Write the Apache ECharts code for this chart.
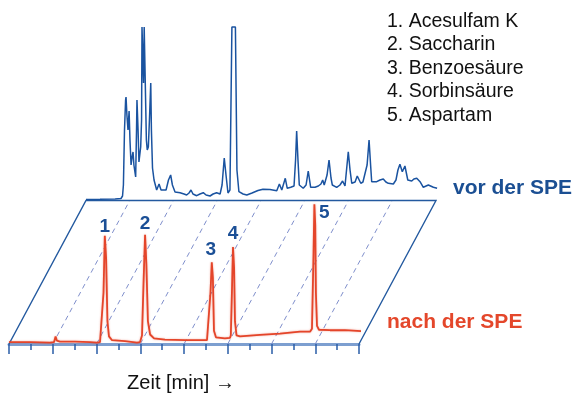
<!DOCTYPE html>
<html>
<head>
<meta charset="utf-8">
<script src="https://cdn.jsdelivr.net/npm/echarts@6/dist/echarts.min.js"></script>
<style>
  html, body { margin: 0; padding: 0; background: #fff; }
  #chart { width: 577px; height: 398px; }
</style>
</head>
<body>
<div id="chart"></div>
<script>
// Chromatogram before SPE clean-up: [time (min), signal]
const beforeSPE = [
  [0, 1], [0.64, 1.2], [1.33, 1.5], [1.60, 2], [1.67, 4.5], [1.71, 15.5], [1.76, 70.5],
  [1.81, 100.5], [1.83, 103.5], [1.87, 85.5], [1.92, 70.5], [1.97, 89.5], [2.01, 60.5],
  [2.06, 35.5], [2.10, 42.5], [2.15, 48.5], [2.19, 35.5], [2.27, 23.5], [2.31, 70.5],
  [2.33, 100.5], [2.38, 70.5], [2.42, 38.5], [2.50, 53.5], [2.54, 80.5], [2.56, 173.5],
  [2.61, 173.5], [2.63, 117.5], [2.66, 173.5], [2.71, 173.5], [2.76, 60.5], [2.80, 50.5],
  [2.85, 53.5], [2.90, 80.5], [2.96, 117.5], [2.99, 70.5], [3.04, 32.5], [3.11, 20.5],
  [3.23, 10.5], [3.34, 16.5], [3.43, 10.5], [3.52, 8.5], [3.66, 10.5], [3.77, 20.5],
  [3.87, 25.5], [3.95, 15.5], [4.07, 8.5], [4.30, 7.8], [4.48, 6.5], [4.60, 5.5],
  [4.71, 7.5], [4.80, 10.5], [4.89, 6.5], [5.06, 4.8], [5.21, 6.5], [5.36, 7.8],
  [5.49, 5.5], [5.67, 4.5], [5.81, 6.5], [5.97, 7.8], [6.03, 6.5], [6.13, 6.5],
  [6.22, 15.5], [6.32, 42.5], [6.40, 25.5], [6.49, 7.5], [6.58, 10.5], [6.67, 173.5],
  [6.83, 173.5], [6.90, 30.5], [6.99, 8.8], [7.18, 6.5], [7.35, 5.5], [7.59, 7.5],
  [7.86, 10], [8.09, 11.2], [8.41, 11], [8.72, 9.8], [8.84, 16.5], [8.95, 10.5],
  [9.02, 11.5], [9.11, 22.2], [9.20, 12.2], [9.36, 13.2], [9.51, 14.5], [9.58, 40.5],
  [9.63, 69.5], [9.69, 40.5], [9.75, 15.5], [9.93, 12.2], [10.06, 15.5], [10.16, 29.5],
  [10.27, 13.2], [10.47, 13.2], [10.62, 14.5], [10.74, 16.5], [10.82, 20.5], [10.89, 15.5],
  [11.02, 25.5], [11.11, 40.5], [11.20, 22.5], [11.26, 15.5], [11.46, 13.2], [11.61, 15.5],
  [11.73, 19.5], [11.84, 14.5], [11.91, 30.5], [11.99, 48.8], [12.07, 30.5], [12.15, 17.2],
  [12.30, 18.5], [12.40, 24.5], [12.56, 17.2], [12.66, 18.5], [12.75, 20.5], [12.85, 35.5],
  [12.94, 60.5], [13.01, 35.5], [13.06, 18.8], [13.29, 18.8], [13.44, 20.5], [13.59, 21.5],
  [13.71, 18.5], [13.82, 17.2], [14.05, 16.5], [14.17, 20.5], [14.26, 30.5], [14.35, 36.2],
  [14.46, 28.8], [14.58, 34.5], [14.71, 20.5], [14.89, 19.5], [14.99, 21.5], [15.12, 22.2],
  [15.20, 20.5], [15.27, 18.8], [15.42, 13.2], [15.65, 15.5], [15.88, 13.2], [16.05, 12.2]
];

// Chromatogram after SPE clean-up: [time (min), signal]
const afterSPE = [
  [0, 2], [0.96, 2], [1.87, 1.5], [2.06, 2], [2.13, 8], [2.19, 3.5], [2.33, 2.5],
  [3.02, 2.5], [3.70, 2], [4.02, 1.5], [4.16, 2], [4.25, 4], [4.32, 54], [4.38, 114],
  [4.44, 90], [4.50, 24], [4.57, 8], [4.71, 4], [5.30, 3], [5.85, 1.5],
  [5.99, 2], [6.08, 9], [6.15, 64], [6.22, 115], [6.28, 84], [6.35, 24],
  [6.45, 10], [6.63, 6], [7.13, 4.5], [8.05, 4], [9.05, 4], [9.14, 6], [9.21, 54],
  [9.27, 86], [9.32, 70], [9.37, 14], [9.46, 7], [9.87, 6], [10.10, 6.5], [10.14, 9],
  [10.19, 54], [10.24, 102], [10.29, 80], [10.33, 24], [10.40, 9], [10.56, 8],
  [11.47, 9.5], [12.39, 11], [13.30, 13], [13.76, 13], [13.85, 16], [13.92, 94],
  [13.96, 147], [14.00, 125], [14.03, 54], [14.08, 19], [14.17, 15], [14.67, 14.5],
  [15.36, 14.5], [16.35, 13.3]
];

// Peak numbers and the index of each peak's apex in afterSPE
const peakNumbers = ['1', '2', '3', '4', '5'];
const peakApexIndex = [13, 23, 33, 41, 52];

// Compound list
const compounds = ['1. Acesulfam K', '2. Saccharin', '3. Benzoesäure', '4. Sorbinsäure', '5. Aspartam'];

const timeTicks = { min: 0, max: 16, interval: 2 };
const gridLines = [2, 4, 6, 8, 10, 12, 14];

const BLUE = '#1a53a0';
const RED = '#e4452a';
const FONT = '"Liberation Sans", Arial, Helvetica, sans-serif';

// per-peak label offsets (px) relative to the apex
const labelOffsets = [[0, -9], [0, -11], [-1, -13], [0, -13], [10, 8]];

const peakLabels = peakApexIndex.map((idx, k) => ({
  value: afterSPE[idx],
  label: { formatter: peakNumbers[k], offset: labelOffsets[k] }
}));

const chart = echarts.init(document.getElementById('chart'), null, { renderer: 'canvas' });

chart.setOption({
  animation: false,
  backgroundColor: '#ffffff',
  grid: [
    // front plane: after SPE
    { left: 9, top: 154, width: 350, height: 200 },
    // rear plane: before SPE
    { left: 86, top: 0.5, width: 350, height: 200 }
  ],
  xAxis: [
    {
      gridIndex: 0, type: 'value', min: timeTicks.min, max: timeTicks.max, interval: timeTicks.interval,
      axisLine: { show: true, onZero: false, lineStyle: { color: '#7d9fd0', width: 3 } },
      axisTick: { show: true, length: 10, lineStyle: { color: '#2a5ea8', width: 1.5 } },
      minorTick: { show: true, splitNumber: 2, length: 6, lineStyle: { color: '#2a5ea8', width: 1.5 } },
      axisLabel: { show: false },
      splitLine: { show: false },
      name: 'Zeit [min] →',
      nameLocation: 'middle',
      nameGap: 29,
      nameTextStyle: { color: '#111', fontFamily: FONT, fontSize: 20, padding: [0, 6, 0, 0] }
    },
    {
      gridIndex: 1, type: 'value', min: timeTicks.min, max: timeTicks.max, show: false
    }
  ],
  yAxis: [
    { gridIndex: 0, type: 'value', min: 0, max: 200, show: false },
    { gridIndex: 1, type: 'value', min: 0, max: 200, show: false }
  ],
  series: [
    {
      name: 'vor der SPE', type: 'line', xAxisIndex: 1, yAxisIndex: 1,
      data: beforeSPE, showSymbol: false, symbol: 'none', clip: false, z: 4,
      lineStyle: { color: BLUE, width: 1.5 }
    },
    {
      name: 'nach der SPE', type: 'line', xAxisIndex: 0, yAxisIndex: 0,
      data: afterSPE, showSymbol: false, symbol: 'none', clip: false, z: 5,
      lineStyle: { color: RED, width: 1.8, shadowBlur: 2, shadowColor: 'rgba(228,69,42,0.45)' }
    },
    {
      name: 'Peaks', type: 'scatter', xAxisIndex: 0, yAxisIndex: 0,
      data: peakLabels, symbolSize: 0, silent: true, z: 6,
      itemStyle: { opacity: 1 },
      label: {
        show: true, position: 'inside', opacity: 1, textBorderWidth: 0,
        color: '#1b4f96', fontFamily: FONT, fontWeight: 700, fontSize: 19
      }
    }
  ]
});

// Perspective plane joining the two time axes
const front = t => chart.convertToPixel({ gridIndex: 0 }, [t, 0]);
const rear = t => chart.convertToPixel({ gridIndex: 1 }, [t, 0]);

const graphics = [];
gridLines.forEach(t => {
  const a = front(t), b = rear(t);
  graphics.push({
    type: 'line', z: 1, silent: true,
    shape: { x1: a[0], y1: a[1], x2: b[0], y2: b[1] },
    style: { stroke: '#7f8fcc', lineWidth: 1, lineDash: [5, 4] }
  });
});
graphics.push({
  type: 'polyline', z: 2, silent: true,
  shape: { points: [front(timeTicks.min), rear(timeTicks.min), rear(timeTicks.max), front(timeTicks.max)] },
  style: { stroke: '#23599f', lineWidth: 1.4, fill: null }
});

// Trace captions
graphics.push({
  type: 'text', z: 10, silent: true, x: 453, y: 188,
  style: { text: 'vor der SPE', fill: '#1b4f93', font: 'bold 21px ' + FONT, verticalAlign: 'middle' }
});
graphics.push({
  type: 'text', z: 10, silent: true, x: 387, y: 322,
  style: { text: 'nach der SPE', fill: '#e4472b', font: 'bold 21px ' + FONT, verticalAlign: 'middle' }
});

// Compound list
compounds.forEach((txt, i) => {
  graphics.push({
    type: 'text', z: 10, silent: true, x: 387, y: 21.5 + i * 23.5,
    style: { text: txt, fill: '#111', font: '19.5px ' + FONT, verticalAlign: 'middle' }
  });
});

chart.setOption({ graphic: graphics });
</script>
</body>
</html>
